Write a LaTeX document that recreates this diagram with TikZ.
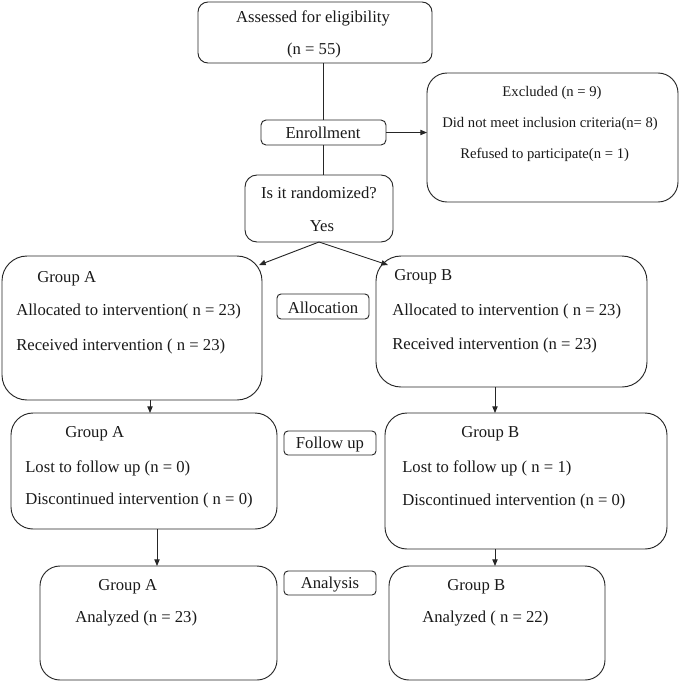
\documentclass[tikz,border=0pt]{standalone}
\usepackage{fontspec}
\setmainfont{Liberation Serif}
\usetikzlibrary{arrows.meta,calc}
\newcommand\mybox[6]{\node[box,minimum width={(#4-#2)*0.75pt},minimum height={(#5-#3)*0.75pt},rounded corners={#6*0.75pt}] (#1) at ({(#2+#4)/2},{(#3+#5)/2}) {};}
\begin{document}
\begin{tikzpicture}[x=0.75pt,y=-0.75pt,
  box/.style={draw=black!85,line width=0.7pt,inner sep=0pt,outer sep=0pt},
  txt/.style={font=\fontsize{12.5}{14}\selectfont,text=black!90,inner sep=0pt},
  lt/.style={txt,anchor=west},
  stxt/.style={font=\fontsize{11}{13}\selectfont,text=black!90,inner sep=0pt},
  slt/.style={stxt,anchor=west},
  arr/.style={draw=black!85,line width=0.7pt,-{Triangle[length=5pt,width=4pt]}},
  ln/.style={draw=black!85,line width=0.7pt}]
\useasboundingbox (0,0) rectangle (680,683);
% boxes
\mybox{assess}{198}{2}{432}{63}{10}
\mybox{enroll}{261}{120}{386}{145}{5}
\mybox{excl}{427}{73}{678}{202}{20}
\mybox{rand}{245}{175}{393}{242}{12}
\mybox{allocA}{2}{256}{262}{400}{25}
\mybox{allocL}{277}{294}{369}{319}{4}
\mybox{allocB}{376}{256}{647}{387}{25}
\mybox{followA}{11}{413}{277}{529}{22}
\mybox{followL}{284}{431}{376}{455}{4}
\mybox{followB}{385}{413}{667}{549}{22}
\mybox{analA}{40}{566}{277}{680}{20}
\mybox{analL}{284}{571}{376}{595}{4}
\mybox{analB}{389}{566}{605}{680}{20}
% texts
\node[txt] (t1) at (313,18) {Assessed for eligibility};
\node[txt] (t2) at (314,50) {(n = 55)};
\node[txt] (t3) at (323,133) {Enrollment};
\node[stxt] (t4) at (552,93) {Excluded (n = 9)};
\node[slt] (t5) at (442,124) {Did not meet inclusion criteria(n= 8)};
\node[slt] (t6) at (460,155) {Refused to participate(n = 1)};
\node[txt] (t7) at (319,193) {Is it randomized?};
\node[txt] (t8) at (322,226) {Yes};
\node[lt] (t9) at (37,279) {Group A};
\node[lt] (t10) at (16,311) {Allocated to intervention( n = 23)};
\node[lt] (t11) at (16,346) {Received intervention ( n = 23)};
\node[txt] (t12) at (323,308) {Allocation};
\node[lt] (t13) at (394,277) {Group B};
\node[lt] (t14) at (392,311) {Allocated to intervention ( n = 23)};
\node[lt] (t15) at (392,345) {Received intervention (n = 23)};
\node[lt] (t16) at (65,434) {Group A};
\node[lt] (t17) at (25,468) {Lost to follow up (n = 0)};
\node[lt] (t18) at (25,500) {Discontinued intervention ( n = 0)};
\node[txt] (t19) at (330,444) {Follow up};
\node[lt] (t20) at (461,434) {Group B};
\node[lt] (t21) at (402,468) {Lost to follow up ( n = 1)};
\node[lt] (t22) at (402,501) {Discontinued intervention (n = 0)};
\node[lt] (t23) at (98,587) {Group A};
\node[lt] (t24) at (75,619) {Analyzed (n = 23)};
\node[txt] (t25) at (330,585) {Analysis};
\node[lt] (t26) at (447,587) {Group B};
\node[lt] (t27) at (422,619) {Analyzed ( n = 22)};
% connectors
\coordinate (xA1) at (150,0);
\coordinate (xA2) at (157,0);
\coordinate (xB) at (495,0);
\coordinate (tipA) at (259,265);
\coordinate (tipB) at (388,265);
\draw[ln] (enroll.north |- assess.south) -- (enroll.north);
\draw[ln] (enroll.south) -- (enroll.south |- rand.north);
\draw[arr] (enroll.east) -- (enroll.east -| excl.west);
\draw[arr] (rand.south) -- (tipA);
\draw[arr] (rand.south) -- (tipB);
\draw[arr] (allocA.south -| xA1) -- (followA.north -| xA1);
\draw[arr] (allocB.south -| xB) -- (followB.north -| xB);
\draw[arr] (followA.south -| xA2) -- (analA.north -| xA2);
\draw[arr] (followB.south -| xB) -- (analB.north -| xB);
\end{tikzpicture}
\end{document}
